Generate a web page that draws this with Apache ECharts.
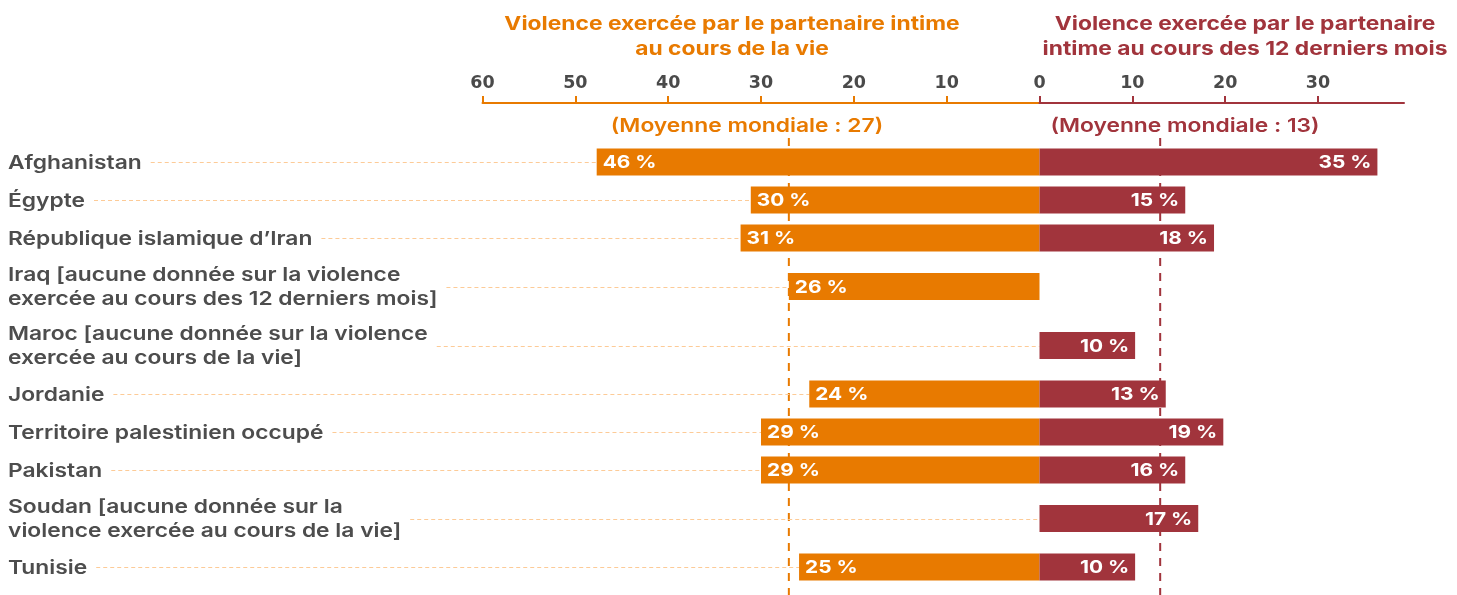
<!DOCTYPE html>
<html><head><meta charset="utf-8">
<script src="https://cdn.jsdelivr.net/npm/echarts@6/dist/echarts.min.js"></script>
<style>html,body{margin:0;padding:0;background:#fff}#c{width:1457px;height:595px}</style>
</head><body><div id="c"></div>
<script>
// ---------- DATA ----------
const categories = [
  'Afghanistan',
  'Égypte',
  'République islamique d’Iran',
  'Iraq [aucune donnée sur la violence\nexercée au cours des 12 derniers mois]',
  'Maroc [aucune donnée sur la violence\nexercée au cours de la vie]',
  'Jordanie',
  'Territoire palestinien occupé',
  'Pakistan',
  'Soudan [aucune donnée sur la\nviolence exercée au cours de la vie]',
  'Tunisie'
];
// printed values
const lifetimeLabels = [46, 30, 31, 26, null, 24, 29, 29, null, 25];
const recentLabels   = [35, 15, 18, null, 10, 13, 19, 16, 17, 10];
// bar lengths as drawn in the picture (axis units)
const lifetimeBars = [47.7, 31.1, 32.2, 27.0, null, 24.8, 30.0, 30.0, null, 25.9];
const recentBars   = [36.4, 15.7, 18.8, null, 10.3, 13.6, 19.8, 15.7, 17.1, 10.3];
const lifetimeTicks = [10, 20, 30, 40, 50, 60];
const recentTicks = [0, 10, 20, 30];
const lifetimeAverage = 27;
const recentAverage = 13;
const titleLifetime = 'Violence exercée par le partenaire intime\nau cours de la vie';
const titleRecent = 'Violence exercée par le partenaire\nintime au cours des 12 derniers mois';
const avgLabel = v => '(Moyenne mondiale : ' + v + ')';

// ---------- STYLE / LAYOUT ----------
const FONT = 'Inter';
const SX = 1.2;            // horizontal stretch to mimic the wide original typeface
const ORANGE = '#E87A00';
const RED = '#A1343C';
const TEXT = '#4d4d4d';
const LEADER = '#FDCB97';
const LABEL_X = 8;
const CAT_SIZE = 19;
const SINGLE_HALF = 19, DOUBLE_HALF = 29.5;
const BAR_H = 27;
const Y_MIN = -59, Y_MAX = 433, AVG_TOP = -24;

const rowPos = [];
(function(){ let acc = 0, prev = 0;
  categories.forEach((c, i) => { const h = c.includes('\n') ? DOUBLE_HALF : SINGLE_HALF;
    if (i > 0) acc += prev + h; rowPos.push(acc); prev = h; });
})();

const ctx = document.createElement('canvas').getContext('2d');
function textWidth(str) {
  ctx.font = '600 ' + CAT_SIZE + 'px ' + FONT;
  return SX * Math.max.apply(null, str.split('\n').map(s => ctx.measureText(s).width));
}

const chart = echarts.init(document.getElementById('c'), null, {renderer: 'canvas'});

const gridTop = 103;
const zeroX = 1039.5;
const pxPerUnit = (zeroX - 482.5) / 60;
const rightMax = (1404 - zeroX) / pxPerUnit;

function axisCommon(color) {
  return {
    type: 'value', position: 'top', interval: 10,
    axisLine: {show: true, onZero: false, lineStyle: {color: color, width: 2}},
    axisTick: {show: true, length: 7, lineStyle: {color: color, width: 2}},
    splitLine: {show: false},
    axisLabel: {fontFamily: 'DejaVu Sans', fontSize: 17.5, fontWeight: 'bold', color: '#4a4a4a', margin: 11}
  };
}

const xLeft = axisCommon(ORANGE);
Object.assign(xLeft, {gridIndex: 0, inverse: true, min: 0, max: 60});
xLeft.axisTick.customValues = lifetimeTicks;
xLeft.axisLabel.customValues = lifetimeTicks;

const xRight = axisCommon(RED);
Object.assign(xRight, {gridIndex: 1, min: 0, max: rightMax});
xRight.axisTick.customValues = recentTicks;
xRight.axisLabel.customValues = recentTicks;
xRight.axisLabel.color = v => (v === 0 ? RED : '#4a4a4a');

const yCommon = g => ({type: 'value', gridIndex: g, inverse: true, min: Y_MIN, max: Y_MAX, show: false});

function barSeries(vals, labels, color, axis, side) {
  return {
    type: 'custom', xAxisIndex: axis, yAxisIndex: axis, z: 3, clip: false,
    data: vals.map((v, i) => (v == null ? null : [v, rowPos[i], i])).filter(Boolean),
    renderItem: (params, api) => {
      const i = api.value(2);
      const p0 = api.coord([0, api.value(1)]);
      const p1 = api.coord([api.value(0), api.value(1)]);
      const x = Math.min(p0[0], p1[0]), w = Math.abs(p1[0] - p0[0]);
      const txt = labels[i] + '\u00a0%';
      return {type: 'group', children: [
        {type: 'rect', shape: {x: x, y: p0[1] - BAR_H / 2, width: w, height: BAR_H}, style: {fill: color}},
        {type: 'text', x: side === 'left' ? x + 6 : x + w - 6, y: p0[1] + 1, scaleX: 1.16,
          style: {text: txt, fill: '#fff', fontFamily: FONT, fontSize: 18, fontWeight: 700,
            align: side === 'left' ? 'left' : 'right', verticalAlign: 'middle'}}
      ]};
    }
  };
}

function avgSeries(value, color, axis) {
  return {
    type: 'custom', xAxisIndex: axis, yAxisIndex: axis, z: 1, clip: false,
    data: [[value]],
    renderItem: (params, api) => {
      const a = api.coord([api.value(0), AVG_TOP]);
      const b = api.coord([api.value(0), Y_MAX]);
      return {type: 'line', shape: {x1: a[0], y1: a[1], x2: b[0], y2: b[1]},
        style: {stroke: color, lineWidth: 2, lineDash: [8, 7]}};
    }
  };
}

const labelSeries = {
  type: 'custom', xAxisIndex: 0, yAxisIndex: 0, z: 2, clip: false,
  data: categories.map((c, i) => [lifetimeBars[i] == null ? 0 : lifetimeBars[i], rowPos[i], i]),
  renderItem: (params, api) => {
    const i = api.value(2);
    const p = api.coord([api.value(0), api.value(1)]);
    const y = Math.round(p[1]) + 0.5;
    const w = textWidth(categories[i]);
    return {type: 'group', children: [
      {type: 'line', shape: {x1: LABEL_X + w + 9, y1: y, x2: p[0], y2: y},
        style: {stroke: LEADER, lineWidth: 1, lineDash: [4, 3]}},
      {type: 'text', x: LABEL_X, y: p[1] + 1, scaleX: SX,
        style: {text: categories[i], fill: TEXT, fontFamily: FONT, fontSize: CAT_SIZE, fontWeight: 600,
          lineHeight: 24, align: 'left', verticalAlign: 'middle'}}
    ]};
  }
};

chart.setOption({
  animation: false,
  backgroundColor: '#fff',
  grid: [
    {left: 482.5, width: zeroX - 482.5, top: gridTop, bottom: 0},
    {left: zeroX, width: 1404 - zeroX, top: gridTop, bottom: 0}
  ],
  xAxis: [xLeft, xRight],
  yAxis: [yCommon(0), yCommon(1)],
  graphic: [
    {type: 'text', x: 732, y: 37, scaleX: SX, style: {text: titleLifetime, fill: ORANGE, fontFamily: FONT, fontSize: 19, fontWeight: 700, lineHeight: 25, align: 'center', verticalAlign: 'middle'}},
    {type: 'text', x: 1245, y: 37, scaleX: SX, style: {text: titleRecent, fill: RED, fontFamily: FONT, fontSize: 19, fontWeight: 700, lineHeight: 25, align: 'center', verticalAlign: 'middle'}},
    {type: 'text', x: 747, y: 126, scaleX: SX, style: {text: avgLabel(lifetimeAverage), fill: ORANGE, fontFamily: FONT, fontSize: 19, fontWeight: 600, align: 'center', verticalAlign: 'middle'}},
    {type: 'text', x: 1185, y: 126, scaleX: SX, style: {text: avgLabel(recentAverage), fill: RED, fontFamily: FONT, fontSize: 19, fontWeight: 600, align: 'center', verticalAlign: 'middle'}}
  ],
  series: [
    avgSeries(lifetimeAverage, ORANGE, 0),
    avgSeries(recentAverage, RED, 1),
    labelSeries,
    barSeries(lifetimeBars, lifetimeLabels, ORANGE, 0, 'left'),
    barSeries(recentBars, recentLabels, RED, 1, 'right')
  ]
});
</script></body></html>
